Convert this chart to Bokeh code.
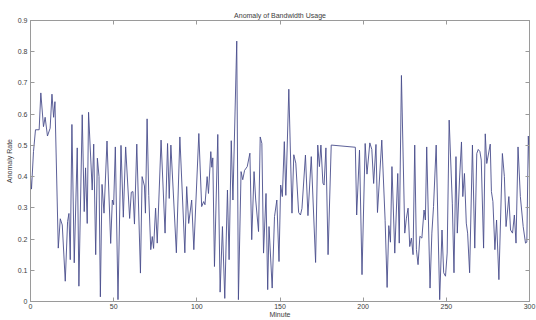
from bokeh.plotting import figure
from bokeh.models import LinearAxis, FixedTicker, Range1d
from bokeh.embed import file_html
from bokeh.resources import INLINE

minutes = [0, 0.6, 1.8, 3.0, 5.2, 6.2, 7.8, 8.8, 10.2, 11.8, 12.9, 13.9, 14.7, 16.7, 17.9, 19.1, 20.9,
           22.3, 23.1, 23.9, 24.9, 26.3, 28.1, 29.1, 31.1, 32.3, 33.1, 34.1, 34.9, 37.1, 38.0, 39.2,
           40.2, 41.2, 42.0, 43.0, 44.2, 46.0, 48.2, 49.2, 50.0, 51.0, 52.6, 54.4, 55.8, 57.2, 59.6,
           60.6, 61.6, 62.5, 63.9, 66.1, 67.1, 68.5, 69.1, 70.1, 71.1, 72.3, 73.2, 74.0, 75.2, 76.2,
           78.5, 80.9, 82.4, 83.4, 84.4, 87.7, 89.8, 92.8, 93.9, 95.1, 96.9, 98.2, 101.2, 102.9,
           104.1, 104.9, 106.2, 107.0, 108.4, 109.0, 109.6, 110.6, 112.6, 114.0, 115.4, 116.8, 118.4,
           119.4, 120.7, 121.7, 124.0, 125.0, 126.6, 127.6, 128.7, 130.3, 131.9, 133.0, 134.4, 135.4,
           137.1, 138.1, 139.1, 140.1, 141.6, 142.6, 143.4, 145.3, 146.7, 148.1, 149.4, 150.4, 151.4,
           152.6, 153.5, 155.3, 157.2, 158.3, 159.5, 161.2, 162.3, 163.2, 165.3, 166.8, 168.8, 171.4,
           172.7, 173.7, 174.6, 175.8, 176.5, 177.6, 178.9, 180.8, 195.3, 196.1, 197.8, 199.3, 201.2,
           202.3, 204.0, 205.2, 206.3, 207.7, 208.6, 211.2, 213.2, 214.4, 215.4, 216.4, 217.3, 219.0,
           220.8, 221.7, 223.0, 225.0, 226.0, 227.0, 228.0, 229.0, 230.0, 231.0, 232.0, 233.0, 234.1,
           235.3, 236.6, 237.4, 238.2, 240.2, 241.3, 242.3, 243.9, 246.0, 247.4, 248.4, 249.5, 250.5,
           251.7, 253.6, 254.6, 255.8, 256.6, 257.9, 259.1, 259.9, 260.9, 262.0, 262.8, 264.0, 265.7,
           267.1, 268.3, 269.2, 270.2, 271.0, 272.4, 273.4, 274.3, 276.4, 277.1, 278.0, 279.2, 280.2,
           281.6, 283.7, 284.9, 285.9, 287.6, 288.6, 289.8, 290.9, 291.9, 293.1, 294.5, 296.2, 297.6,
           298.4, 299.3, 300.0]

anomaly_rate = [0.40, 0.36, 0.48, 0.55, 0.55, 0.668, 0.56, 0.59, 0.53, 0.555, 0.664, 0.59, 0.64, 0.171,
                0.265, 0.245, 0.065, 0.256, 0.282, 0.134, 0.567, 0.124, 0.492, 0.049, 0.598, 0.288,
                0.428, 0.25, 0.606, 0.357, 0.504, 0.15, 0.459, 0.40, 0.015, 0.375, 0.283, 0.514, 0.186,
                0.325, 0.31, 0.495, 0.006, 0.50, 0.27, 0.495, 0.266, 0.35, 0.352, 0.248, 0.504, 0.091,
                0.40, 0.37, 0.283, 0.585, 0.34, 0.166, 0.208, 0.17, 0.299, 0.187, 0.517, 0.219, 0.506,
                0.33, 0.501, 0.156, 0.527, 0.156, 0.368, 0.25, 0.325, 0.166, 0.538, 0.304, 0.32, 0.31,
                0.40, 0.346, 0.48, 0.43, 0.46, 0.112, 0.535, 0.03, 0.24, 0.01, 0.357, 0.134, 0.515,
                0.325, 0.834, 0.006, 0.416, 0.39, 0.42, 0.432, 0.475, 0.198, 0.416, 0.325, 0.224, 0.527,
                0.506, 0.155, 0.346, 0.038, 0.24, 0.043, 0.272, 0.325, 0.128, 0.373, 0.336, 0.512, 0.34,
                0.68, 0.283, 0.47, 0.443, 0.285, 0.277, 0.298, 0.469, 0.275, 0.464, 0.125, 0.501, 0.432,
                0.501, 0.379, 0.373, 0.492, 0.15, 0.501, 0.494, 0.277, 0.485, 0.086, 0.506, 0.408, 0.508,
                0.487, 0.378, 0.503, 0.285, 0.517, 0.26, 0.045, 0.243, 0.19, 0.432, 0.155, 0.41, 0.187,
                0.724, 0.219, 0.267, 0.299, 0.176, 0.203, 0.15, 0.501, 0.166, 0.118, 0.209, 0.203, 0.293,
                0.261, 0.495, 0.043, 0.219, 0.304, 0.501, 0.006, 0.229, 0.092, 0.081, 0.155, 0.581, 0.315,
                0.092, 0.464, 0.219, 0.389, 0.511, 0.336, 0.41, 0.251, 0.219, 0.092, 0.501, 0.171, 0.474,
                0.487, 0.48, 0.453, 0.171, 0.537, 0.442, 0.504, 0.352, 0.32, 0.166, 0.261, 0.07, 0.474,
                0.40, 0.24, 0.336, 0.229, 0.219, 0.277, 0.187, 0.495, 0.336, 0.24, 0.187, 0.19, 0.53, 0.42]

x_ticks = [0, 50, 100, 150, 200, 250, 300]
y_ticks = [0, 0.1, 0.2, 0.3, 0.4, 0.5, 0.6, 0.7, 0.8, 0.9]
y_tick_labels = ["0", "0.1", "0.2", "0.3", "0.4", "0.5", "0.6", "0.7", "0.8", "0.9"]
x_label = "Minute"
y_label = "Anomaly Rate"
title = "Anomaly of Bandwidth Usage"

FONT = "Liberation Sans"
TXT = "#3c3c3c"
GRAY = "#9a9a9a"

p = figure(width=536, height=320, output_backend="svg", toolbar_location=None,
           x_range=Range1d(0, 300), y_range=Range1d(0, 0.9),
           title=title,
           min_border_left=30, min_border_right=7, min_border_top=20, min_border_bottom=18)
p.background_fill_color = "white"
p.border_fill_color = "white"
p.outline_line_color = GRAY
p.grid.visible = False

p.title.text_font = FONT
p.title.text_font_size = "7px"
p.title.text_font_style = "normal"
p.title.text_color = TXT
p.title.align = "center"
p.title.standoff = 3

def style_axis(ax, ticks):
    ax.ticker = FixedTicker(ticks=ticks)
    ax.major_tick_in = 4
    ax.major_tick_out = 0
    ax.minor_tick_line_color = None
    ax.axis_line_color = GRAY
    ax.major_tick_line_color = GRAY
    ax.major_label_text_font = FONT
    ax.major_label_text_font_size = "7px"
    ax.major_label_text_color = TXT
    ax.axis_label_text_font = FONT
    ax.axis_label_text_font_size = "7px"
    ax.axis_label_text_font_style = "normal"
    ax.axis_label_text_color = TXT

xa = p.xaxis[0]
style_axis(xa, x_ticks)
xa.axis_label = x_label
xa.major_label_standoff = 2
xa.axis_label_standoff = -1

ya = p.yaxis[0]
style_axis(ya, y_ticks)
ya.axis_label = y_label
ya.major_label_overrides = dict(zip(y_ticks, y_tick_labels))
ya.major_label_standoff = 3
ya.axis_label_standoff = 2

for loc, ticks in (("above", x_ticks), ("right", y_ticks)):
    ax = LinearAxis()
    style_axis(ax, ticks)
    ax.major_label_text_font_size = "0px"
    ax.major_label_text_color = None
    ax.major_label_standoff = 0
    p.add_layout(ax, loc)

p.line(minutes, anomaly_rate, line_color="#4a4e8c", line_width=0.9)

open("out.html", "w").write(file_html(p, INLINE))
